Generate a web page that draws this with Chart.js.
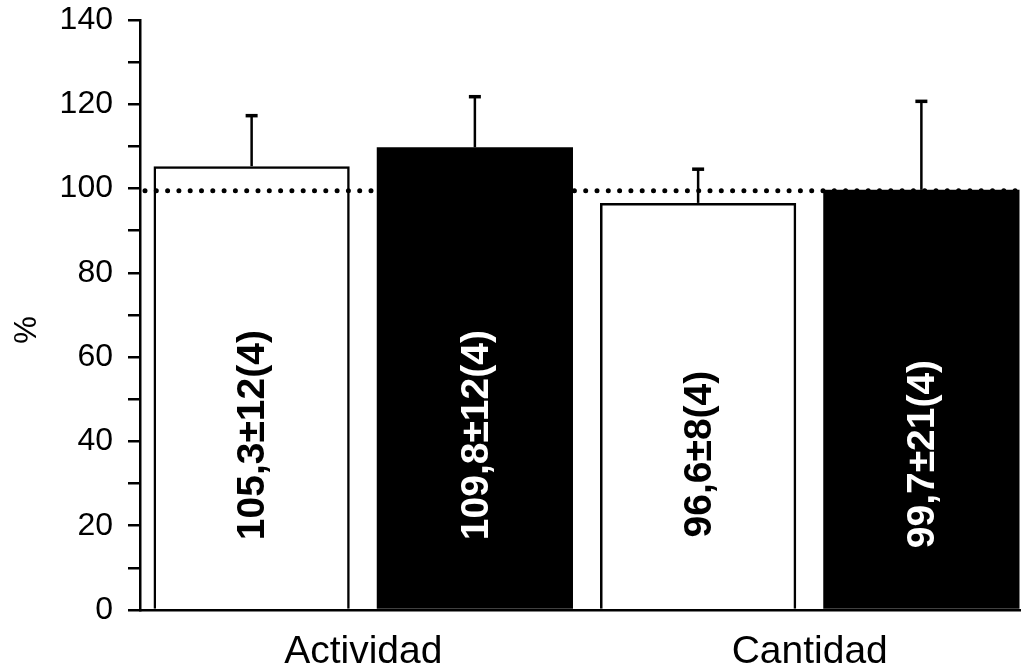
<!DOCTYPE html>
<html>
<head>
<meta charset="utf-8">
<title>Actividad y cantidad (%)</title>
<script src="https://cdn.jsdelivr.net/npm/chart.js@4/dist/chart.umd.min.js"></script>
<style>
  html, body { margin: 0; padding: 0; background: #fff; overflow: hidden; }
  #wrap { width: 1040px; height: 663px; }
</style>
</head>
<body>
<div id="wrap"><canvas id="c" width="1040" height="663"></canvas></div>
<script>
// Group categories and the two series (open and filled bars)
const categories = ['Actividad', 'Cantidad'];
const openMeans = [105.3, 96.6];
const openSD = [12, 8];
const filledMeans = [109.8, 99.7];
const filledSD = [12, 21];
const nPerBar = [4, 4];
const referenceLevel = 99.5;
const yTicks = [0, 20, 40, 60, 80, 100, 120, 140];

const FONT = '"Liberation Sans", Arial, Helvetica, sans-serif';

function fmt(v) { return v.toFixed(1).replace('.', ','); }

// Dotted reference line drawn beneath the bars
const refLine = {
  id: 'refLine',
  beforeDatasetsDraw(chart) {
    const { ctx, chartArea } = chart;
    const y = chart.scales.y.getPixelForValue(referenceLevel);
    ctx.save();
    ctx.strokeStyle = '#000';
    ctx.lineWidth = 5;
    ctx.lineCap = 'round';
    ctx.setLineDash([0, 11.3]);
    ctx.beginPath();
    ctx.moveTo(chartArea.left + 5, y);
    ctx.lineTo(chartArea.right, y);
    ctx.stroke();
    ctx.restore();
  }
};

// Upper error bars and the rotated value labels inside each bar
const barExtras = {
  id: 'barExtras',
  afterDatasetsDraw(chart, args, opts) {
    const { ctx } = chart;
    const ys = chart.scales.y;
    chart.data.datasets.forEach((ds, di) => {
      const meta = chart.getDatasetMeta(di);
      meta.data.forEach((bar, i) => {
        const v = ds.data[i];
        const sd = ds.sd[i];
        const yTop = ys.getPixelForValue(v + sd);
        ctx.save();
        ctx.strokeStyle = '#000';
        ctx.lineWidth = 2.5;
        ctx.beginPath();
        ctx.moveTo(bar.x, bar.y);
        ctx.lineTo(bar.x, yTop);
        ctx.stroke();
        ctx.lineWidth = 3.5;
        ctx.beginPath();
        ctx.moveTo(bar.x - 6, yTop);
        ctx.lineTo(bar.x + 6, yTop);
        ctx.stroke();
        ctx.restore();

        const text = fmt(v) + '\u00B1' + sd + '(' + nPerBar[i] + ')';
        const cy = ys.getPixelForValue(opts.labelCenter[i]);
        ctx.save();
        ctx.translate(bar.x + 2, cy);
        ctx.rotate(-Math.PI / 2);
        ctx.font = 'bold 39px ' + FONT;
        ctx.fillStyle = ds.labelColor;
        ctx.textAlign = 'center';
        ctx.textBaseline = 'middle';
        ctx.fillText(text, 0, 0);
        ctx.restore();
      });
    });
  },
  afterDraw(chart) {
    const { ctx } = chart;
    ctx.save();
    ctx.translate(27, 330);
    ctx.rotate(-Math.PI / 2);
    ctx.font = '31px ' + FONT;
    ctx.fillStyle = '#000';
    ctx.textAlign = 'center';
    ctx.textBaseline = 'middle';
    ctx.fillText('%', 0, 0);
    ctx.restore();
  }
};

new Chart(document.getElementById('c'), {
  type: 'bar',
  data: {
    labels: categories,
    datasets: [
      {
        data: openMeans, sd: openSD, labelColor: '#000',
        backgroundColor: 'rgba(255,255,255,0)', borderColor: '#000', borderWidth: 2.5,
        borderSkipped: 'bottom'
      },
      {
        data: filledMeans, sd: filledSD, labelColor: '#fff',
        backgroundColor: '#000', borderColor: '#000', borderWidth: 0
      }
    ]
  },
  options: {
    responsive: false,
    devicePixelRatio: 1,
    animation: false,
    datasets: { bar: { barPercentage: 0.879, categoryPercentage: 1 } },
    layout: { padding: { top: 20, right: 7, left: 0, bottom: 0 } },
    plugins: {
      legend: { display: false },
      tooltip: { enabled: false },
      barExtras: { labelCenter: [41.5, 37] }
    },
    scales: {
      x: {
        type: 'category',
        grid: { display: false },
        border: { display: true, color: '#000', width: 2.5 },
        ticks: { color: '#000', font: { family: FONT, size: 39 }, padding: 11, maxRotation: 0 },
        afterFit(s) { s.height = 53; s.paddingLeft = 0; s.paddingRight = 0; }
      },
      y: {
        min: 0, max: 140,
        grid: { display: true, drawOnChartArea: false, drawTicks: true, tickLength: 12, color: '#000', lineWidth: 2.5 },
        border: { display: true, color: '#000', width: 2.5 },
        ticks: {
          stepSize: 10, autoSkip: false, color: '#000', padding: 15,
          font: { family: FONT, size: 32 },
          callback: v => (yTicks.includes(v) ? String(v) : '')
        },
        afterFit(s) { s.width = 140; s.paddingTop = 0; s.paddingBottom = 0; }
      }
    }
  },
  plugins: [refLine, barExtras]
});
</script>
</body>
</html>
